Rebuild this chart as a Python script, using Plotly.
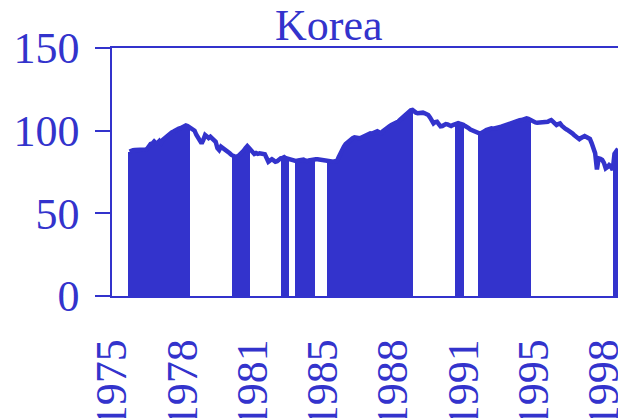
import plotly.graph_objects as go

TITLE = "Korea"
START_YEAR = 1975
START_MONTH = 11  # first observation: Nov 1975

# Monthly index values, Nov 1975 .. Jan 1999
VALUES = [
    87.3, 88.0,
    88.2, 88.3, 88.3, 88.4, 88.4, 88.5, 88.5, 88.6, 89.0, 90.5, 92.0, 92.3,
    93.5, 92.5, 92.7, 93.8, 92.5, 94.5, 95.5, 96.3, 97.5, 98.5, 99.0, 99.5,
    100.3, 100.8, 101.2, 101.5, 102.3, 102.8, 103.2, 102.8, 102.0, 101.5, 100.8, 100.0,
    97.5, 95.5, 93.5, 92.3, 94.5, 97.4, 96.5, 95.5, 96.3, 95.0, 94.0, 93.3,
    89.5, 88.3, 90.3, 89.5, 89.0, 88.7, 87.5, 86.3, 85.3, 84.8, 84.2, 83.9,
    84.8, 85.8, 86.3, 88.0, 89.5, 90.7, 89.5, 88.3, 87.0, 85.9, 86.5, 86.0,
    86.3, 86.0, 85.4, 85.7, 83.5, 81.2, 82.0, 82.7, 82.0, 81.2, 81.5, 82.5,
    83.3, 83.5, 84.0, 83.3, 83.0, 82.7, 82.3, 82.0, 81.8, 81.6, 82.0, 82.3,
    82.7, 82.5, 82.0, 81.6, 82.0, 82.3, 82.7, 83.0, 82.7, 82.7, 82.5, 82.2,
    81.8, 81.8, 81.5, 81.2, 81.0, 81.0, 81.2, 81.5, 81.6, 84.0, 86.5, 88.5,
    90.3, 91.9, 93.0, 94.0, 94.8, 95.5, 96.0, 95.8, 95.5, 95.4, 95.9, 96.5,
    96.8, 97.4, 98.0, 98.4, 98.2, 98.8, 99.4, 99.6, 99.0, 98.4, 99.5, 100.5,
    101.4, 102.0, 102.8, 103.4, 103.8, 104.3, 104.8, 105.6, 106.6, 107.5, 108.6, 109.8,
    110.8, 111.6, 112.3, 112.5, 111.2, 110.9, 110.5, 110.7, 111.0, 110.9, 110.5, 110.0,
    109.5, 108.0, 105.5, 104.4, 105.2, 105.4, 104.0, 102.6, 102.8, 103.6, 104.0, 103.8,
    103.2, 102.8, 103.4, 104.0, 104.4, 104.6, 104.2, 104.0, 103.5, 102.8, 102.4, 101.5,
    100.7, 100.2, 99.5, 98.9, 98.6, 98.4, 98.4, 98.8, 99.6, 100.4, 100.8, 101.2,
    101.4, 101.2, 101.3, 101.4, 101.8, 102.2, 102.6, 103.0, 103.4, 103.8, 104.3, 104.8,
    105.3, 105.7, 106.0, 106.2, 106.3, 106.4, 106.8, 107.2, 107.5, 107.2, 106.5, 105.6,
    105.4, 105.0, 104.8, 104.9, 104.7, 104.8, 105.0, 105.2, 105.4, 106.0, 106.4, 105.5,
    104.0, 103.4, 104.0, 104.4, 103.0, 101.6, 101.2, 100.6, 100.1, 99.5, 98.4, 97.4,
    96.6, 95.6, 94.8, 95.6, 96.5, 96.8, 96.2, 95.6, 95.0, 92.5, 90.0, 86.3,
    76.5, 83.3, 83.0, 82.3, 80.5, 77.2, 78.0, 79.2, 78.5, 76.2, 86.0, 88.3,
    89.0,
]

# Shaded (filled) periods, inclusive
SHADED = [
    ("1975-11", "1978-09"),
    ("1980-10", "1981-07"),
    ("1983-02", "1983-05"),
    ("1983-10", "1984-08"),
    ("1985-04", "1989-04"),
    ("1991-05", "1991-09"),
    ("1992-06", "1994-11"),
    ("1998-11", "1999-01"),
]

TICK_LABELS = ["1975", "1978", "1981", "1985", "1988", "1991", "1995", "1998"]
Y_TICKS = [0, 50, 100, 150]

BLUE = "#3333CC"
BASE_YEAR = 1975


def month_index(s):
    y, m = map(int, s.split("-"))
    return (y - BASE_YEAR) * 12 + (m - 1)


first = (START_YEAR - BASE_YEAR) * 12 + (START_MONTH - 1)
idx = [first + i for i in range(len(VALUES))]
xs = [BASE_YEAR + k / 12 for k in idx]
shade = [
    v if any(month_index(a) <= k <= month_index(b) for a, b in SHADED) else None
    for k, v in zip(idx, VALUES)
]
tickvals = [BASE_YEAR + 40 * i / 12 for i in range(len(TICK_LABELS))]

fig = go.Figure()
fig.add_trace(go.Bar(x=xs, y=shade, width=1 / 12,
                     marker=dict(color=BLUE, line=dict(width=0)),
                     showlegend=False, hoverinfo="skip"))
fig.add_trace(go.Scatter(x=xs, y=VALUES, mode="lines",
                         line=dict(color=BLUE, width=4.5), showlegend=False))

fig.update_layout(
    template="none",
    width=618, height=418,
    margin=dict(l=112, r=0, t=48, b=122, pad=0),
    paper_bgcolor="white", plot_bgcolor="white",
    bargap=0,
    font=dict(family="Liberation Serif", color=BLUE, size=44),
    title=dict(text=TITLE, x=0.532, xanchor="center", xref="container",
               y=0.978, yanchor="top", yref="container",
               font=dict(size=44, color=BLUE, family="Liberation Serif")),
)
fig.update_xaxes(range=[BASE_YEAR, BASE_YEAR + 24], tickmode="array",
                 tickvals=tickvals, ticktext=TICK_LABELS, tickangle=-90,
                 ticks="", showline=True, linecolor=BLUE, linewidth=1.5,
                 mirror=True, showgrid=False, zeroline=False,
                 automargin=False, ticklabelstandoff=24,
                 ticklabeloverflow="allow")
fig.update_yaxes(range=[0, 150], tickmode="array", tickvals=Y_TICKS,
                 ticks="outside", ticklen=15, tickcolor=BLUE, tickwidth=1.5,
                 showline=True, linecolor=BLUE, linewidth=1.5,
                 showgrid=False, zeroline=False, automargin=False,
                 ticklabelstandoff=7, ticklabeloverflow="allow")

fig.write_html("out.html",
               config={"displayModeBar": False},
               post_script="document.body.style.margin='0px';"
                           "document.body.style.overflow='hidden';")
